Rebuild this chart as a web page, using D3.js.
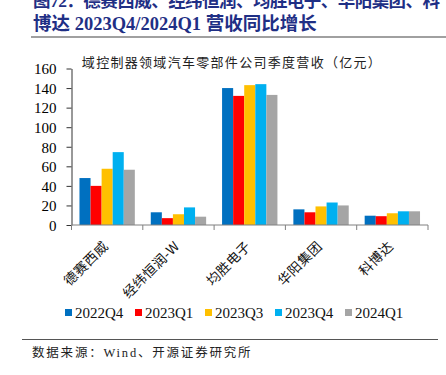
<!DOCTYPE html>
<html><head><meta charset="utf-8">
<script src="https://cdn.jsdelivr.net/npm/d3@7"></script>
<style>body{margin:0;background:#fff;}svg{display:block;}</style>
</head><body>
<script>
const categories = ["德赛西威", "经纬恒润-W", "均胜电子", "华阳集团", "科博达"];
const seriesNames = ["2022Q4", "2023Q1", "2023Q3", "2023Q4", "2024Q1"];
const s2022Q4 = [48, 13, 140, 16, 9.5];
const s2023Q1 = [40, 7, 132, 13, 9];
const s2023Q3 = [57.5, 11, 143, 19, 12];
const s2023Q4 = [74.5, 18, 144, 23, 14];
const s2024Q1 = [56.5, 8.5, 133, 20, 14];
const seriesValues = [s2022Q4, s2023Q1, s2023Q3, s2023Q4, s2024Q1];
const colors = ["#0070C0", "#FF0000", "#FFC000", "#00B0F0", "#A5A5A5"];
const yTicks = [0, 20, 40, 60, 80, 100, 120, 140, 160];

const W = 446, H = 375;
const svg = d3.select("body").append("svg").attr("width", W).attr("height", H);
const serif = "'Liberation Serif','Times New Roman','Noto Sans CJK SC',serif";
const cjk = "'Noto Sans CJK SC',sans-serif";

// Header
const titleColor = "#1F2F85";
svg.append("text").attr("x", 33).attr("y", 7).attr("font-family", serif).attr("font-weight", "bold")
  .attr("font-size", 17.5).attr("textLength", 407).attr("lengthAdjust", "spacing")
  .attr("fill", titleColor).text("图72：德赛西威、经纬恒润、均胜电子、华阳集团、科");
svg.append("text").attr("x", 33).attr("y", 30).attr("font-family", serif).attr("font-weight", "bold")
  .attr("font-size", 18.5).attr("fill", titleColor).text("博达 2023Q4/2024Q1 营收同比增长");
svg.append("line").attr("x1", 31).attr("x2", 446).attr("y1", 37).attr("y2", 37)
  .attr("stroke", "#808080").attr("stroke-width", 1.5);

// Chart title
svg.append("text").attr("x", 232).attr("y", 67).attr("text-anchor", "middle").attr("font-family", cjk)
  .attr("font-size", 13).attr("letter-spacing", 1.3).attr("fill", "#222").text("域控制器领域汽车零部件公司季度营收（亿元）");

const x0 = d3.scaleBand().domain(categories).range([71.5, 428]).padding(0);
const x1 = d3.scaleBand().domain(seriesNames).range([0, x0.bandwidth()]).paddingInner(0).paddingOuter(0.72);
const y = d3.scaleLinear().domain([0, 160]).range([225, 68.5]);

// Bars
const g = svg.append("g");
categories.forEach((c, i) => {
  seriesNames.forEach((s, j) => {
    const v = seriesValues[j][i];
    g.append("rect").attr("x", x0(c) + x1(s)).attr("width", x1.bandwidth())
      .attr("y", y(v)).attr("height", y(0) - y(v)).attr("fill", colors[j]);
  });
});

// Y axis
const yAxis = d3.axisLeft(y).tickValues(yTicks).tickSize(5).tickPadding(10).tickSizeOuter(0);
const ya = svg.append("g").attr("transform", "translate(71.5,0)").call(yAxis);
ya.selectAll("path,line").attr("stroke", "#333");
ya.selectAll("text").attr("font-family", serif).attr("font-size", 15).attr("fill", "#000").attr("dy", "0.35em");

// X axis
const xa = svg.append("g").attr("transform", "translate(0,225)");
xa.append("line").attr("x1", 71.5).attr("x2", 428).attr("stroke", "#808080").attr("stroke-width", 1);
const bounds = categories.map(c => x0(c)).concat([x0(categories[categories.length - 1]) + x0.bandwidth()]);
xa.selectAll("line.tk").data(bounds).enter().append("line").attr("class", "tk")
  .attr("x1", d => d).attr("x2", d => d).attr("y1", 0).attr("y2", 5).attr("stroke", "#808080");
xa.selectAll("text").data(categories).enter().append("text")
  .attr("transform", d => `translate(${x0(d) + x0.bandwidth() / 2 + 2},${22}) rotate(-45)`)
  .attr("text-anchor", "end").attr("font-family", cjk).attr("font-size", 13.5).attr("letter-spacing", 0.5)
  .attr("fill", "#111").text(d => d);

// Legend
const leg = svg.append("g");
seriesNames.forEach((s, j) => {
  const lx = 65 + j * 70;
  leg.append("rect").attr("x", lx).attr("y", 309).attr("width", 7).attr("height", 7).attr("fill", colors[j]);
  leg.append("text").attr("x", lx + 10).attr("y", 318).attr("font-family", serif).attr("font-size", 15)
    .attr("fill", "#111").text(s);
});

// Footer
svg.append("line").attr("x1", 22).attr("x2", 438).attr("y1", 339.5).attr("y2", 339.5)
  .attr("stroke", "#555").attr("stroke-width", 1.2);
svg.append("text").attr("x", 32).attr("y", 357).attr("font-family", serif).attr("font-size", 12.5)
  .attr("letter-spacing", 1.8).attr("fill", "#222").text("数据来源：Wind、开源证券研究所");
</script>
</body></html>
